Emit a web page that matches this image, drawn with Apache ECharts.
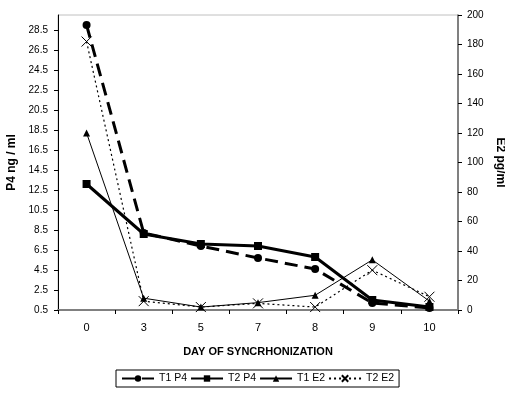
<!DOCTYPE html>
<html><head><meta charset="utf-8">
<script src="https://cdn.jsdelivr.net/npm/echarts@6/dist/echarts.min.js"></script>
<style>html,body{margin:0;padding:0;background:#fff}#c{width:505px;height:399px}</style>
</head><body><div id="c"></div>
<script>
var days = ['0','3','5','7','8','9','10'];
var t1P4 = [29.0, 8.2, 6.9, 5.7, 4.6, 1.2, 0.7];
var t2P4 = [13.1, 8.1, 7.1, 6.9, 5.8, 1.5, 0.8];
var t1E2 = [120, 8, 2, 5, 10, 34, 6];
var t2E2 = [182, 6, 2, 4.5, 2, 27, 9];
var p4Ticks = [0.5, 30, 2];
var e2Ticks = [0, 200, 20];

var font = 'Liberation Sans, Arial, sans-serif';
var xPath = 'path://M0,0L10,10M10,0L0,10';
var chart = echarts.init(document.getElementById('c'), null, {renderer:'canvas'});
chart.setOption({
  animation:false,
  backgroundColor:'#fff',
  textStyle:{fontFamily:font},
  grid:{left:58,right:47,top:15,bottom:89,show:true,borderColor:'#c0c0c0',borderWidth:1,containLabel:false,outerBoundsMode:'none'},
  legend:{
    bottom:12,left:116,
    itemWidth:32,itemHeight:8,itemGap:3,
    borderColor:'#000',borderWidth:1,padding:[3,5,3,5],
    textStyle:{fontFamily:font,fontSize:10.5,color:'#000'},
    data:['T1 P4','T2 P4','T1 E2','T2 E2']
  },
  xAxis:{
    type:'category',data:days,boundaryGap:true,
    name:'DAY OF SYNCRHONIZATION',nameLocation:'middle',nameGap:36,
    nameTextStyle:{fontFamily:font,fontWeight:'bold',fontSize:11,color:'#000'},
    axisLine:{lineStyle:{color:'#808080',width:2}},
    axisTick:{show:true,alignWithLabel:false,length:4,lineStyle:{color:'#000',width:1}},
    axisLabel:{fontFamily:font,fontSize:11,color:'#000',margin:12},
    splitLine:{show:false}
  },
  yAxis:[{
    type:'value',min:p4Ticks[0],max:p4Ticks[1],interval:p4Ticks[2],
    name:'P4 ng / ml',nameLocation:'middle',nameRotate:90,nameGap:40,
    nameTextStyle:{fontFamily:font,fontWeight:'bold',fontSize:12,color:'#000'},
    axisLine:{show:true,lineStyle:{color:'#000',width:1}},
    axisTick:{show:true,length:4,lineStyle:{color:'#000'}},
    axisLabel:{fontFamily:font,fontSize:10,color:'#000',margin:10,showMaxLabel:false,
      formatter:function(v){return v.toFixed(1);}},
    splitLine:{show:false}
  },{
    type:'value',min:e2Ticks[0],max:e2Ticks[1],interval:e2Ticks[2],position:'right',offset:0,
    name:'E2 pg/ml',nameLocation:'middle',nameRotate:-90,nameGap:33,
    nameTextStyle:{fontFamily:font,fontWeight:'bold',fontSize:12,color:'#000'},
    axisLine:{show:true,lineStyle:{color:'#606060',width:1.5}},
    axisTick:{show:true,length:4,lineStyle:{color:'#000'}},
    axisLabel:{fontFamily:font,fontSize:10,color:'#000',margin:9},
    splitLine:{show:false}
  }],
  series:[{
    name:'T1 P4',type:'line',yAxisIndex:0,data:t1P4,
    symbol:'circle',symbolSize:8,
    lineStyle:{color:'#000',width:3,type:[13,7]},
    itemStyle:{color:'#000'}
  },{
    name:'T2 P4',type:'line',yAxisIndex:0,data:t2P4,
    symbol:'rect',symbolSize:8,
    lineStyle:{color:'#000',width:3},
    itemStyle:{color:'#000'}
  },{
    name:'T1 E2',type:'line',yAxisIndex:1,data:t1E2,
    symbol:'triangle',symbolSize:7,
    lineStyle:{color:'#000',width:1},
    itemStyle:{color:'#000'}
  },{
    name:'T2 E2',type:'line',yAxisIndex:1,data:t2E2,
    symbol:xPath,symbolSize:10,
    lineStyle:{color:'#000',width:1.2,type:[2,3]},
    itemStyle:{color:'#000',borderColor:'#000',borderWidth:1}
  }]
});
</script>
</body></html>
